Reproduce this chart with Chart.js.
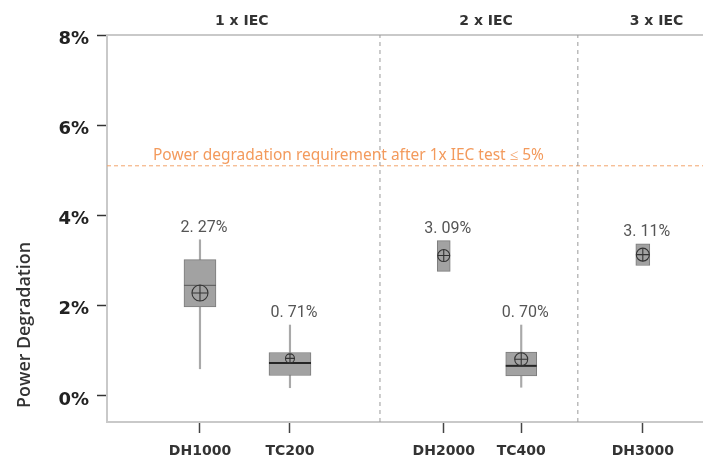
<!DOCTYPE html>
<html>
<head>
<meta charset="utf-8">
<script src="https://cdn.jsdelivr.net/npm/chart.js@4/dist/chart.umd.min.js"></script>
<style>
html,body{margin:0;padding:0;background:#fff;overflow:hidden;}
#wrap{width:703px;height:465px;overflow:hidden;}
</style>
</head>
<body>
<div id="wrap"><canvas id="c" width="703" height="465"></canvas></div>
<script>
// ---- data ----
const categories = ['DH1000', 'TC200', 'DH2000', 'TC400', 'DH3000'];
const categoryX = [15.6, 30.7, 56.5, 69.5, 89.9];          // x-axis units (0..100)
const groups = ['1 x IEC', '2 x IEC', '3 x IEC'];
const groupX = [22.6, 63.6, 92.2];
const groupDividers = [45.8, 79.0];
const whiskerLow  = [0.60, 0.18, null, 0.19, null];
const whiskerHigh = [3.46, 1.57, null, 1.57, null];
const q1     = [1.97, 0.45, 2.76, 0.44, 2.89];
const q3     = [3.02, 0.96, 3.44, 0.97, 3.37];
const median = [2.45, 0.73, null, 0.665, null];
const meanMarker = [2.28, 0.83, 3.11, 0.81, 3.13];
const meanLabels = ['2. 27%', '0. 71%', '3. 09%', '0. 70%', '3. 11%'];
const yTicks = [0, 2, 4, 6, 8];
const requirement = 5.1;
const requirementText = 'Power degradation requirement after 1x IEC test \u2264 5%';
const yTitle = 'Power Degradation';

// ---- styles ----
const boxWidths = [32, 42, 13, 31, 14];
const meanRadius = [8, 4.5, 6, 6.5, 6.5];
const Y_MIN = -0.58, Y_MAX = 8;

const datasets = [];
// whiskers
datasets.push({
  type: 'bar', label: 'whisker', grouped: false, order: 10,
  data: categories.map((c, i) => whiskerLow[i] == null ? null : {x: categoryX[i], y: [whiskerLow[i], whiskerHigh[i]]}).filter(d => d),
  backgroundColor: '#a9a9a9', borderWidth: 0, barThickness: 1.5
});
// boxes
categories.forEach((c, i) => {
  datasets.push({
    type: 'bar', label: c, grouped: false, order: 9,
    data: [{x: categoryX[i], y: [q1[i], q3[i]]}],
    backgroundColor: '#a2a2a2', borderColor: '#7b7b7b', borderWidth: 1, borderSkipped: false,
    barThickness: boxWidths[i]
  });
});
// medians
const medIdx = categories.map((c, i) => i).filter(i => median[i] != null);
datasets.push({
  type: 'scatter', label: 'median', order: 5,
  data: medIdx.map(i => ({x: categoryX[i], y: median[i]})),
  pointStyle: 'line',
  pointRadius: medIdx.map(i => boxWidths[i] / 2),
  pointBorderWidth: medIdx.map(i => i === 0 ? 1 : 2),
  pointBorderColor: medIdx.map(i => i === 0 ? '#5a5a5a' : '#262626'),
  pointBackgroundColor: 'transparent'
});
// mean circle + cross
['circle', 'cross'].forEach(ps => {
  datasets.push({
    type: 'scatter', label: 'mean-' + ps, order: 4,
    data: categories.map((c, i) => ({x: categoryX[i], y: meanMarker[i]})),
    pointStyle: ps, pointRadius: meanRadius, pointBorderWidth: 1.1,
    pointBorderColor: '#333', pointBackgroundColor: 'transparent'
  });
});
// group dividers
groupDividers.forEach(d => {
  datasets.push({
    type: 'line', label: 'div', order: 20,
    data: [{x: d, y: Y_MIN}, {x: d, y: Y_MAX}],
    borderColor: '#9a9a9a', borderWidth: 1, borderDash: [4, 4], pointRadius: 0
  });
});
// requirement line
datasets.push({
  type: 'line', label: 'req', order: 20,
  data: [{x: 0, y: requirement}, {x: 100, y: requirement}],
  borderColor: '#f3a46c', borderWidth: 1, borderDash: [4, 3], pointRadius: 0
});

const textPlugin = {
  id: 'texts',
  afterDatasetsDraw(chart) {
    const ctx = chart.ctx, xs = chart.scales.x, ys = chart.scales.y;
    ctx.save();
    ctx.font = '16px Roboto';
    ctx.fillStyle = '#555';
    ctx.textAlign = 'center';
    ctx.textBaseline = 'middle';
    categories.forEach((c, i) => {
      const top = Math.max(q3[i], whiskerHigh[i] == null ? -Infinity : whiskerHigh[i]);
      ctx.fillText(meanLabels[i], xs.getPixelForValue(categoryX[i]) + 4, ys.getPixelForValue(top) - 12);
    });
    ctx.font = '14px "Noto Sans"';
    const w = ctx.measureText(requirementText).width;
    ctx.font = (14 * 391 / w).toFixed(2) + 'px "Noto Sans"';
    ctx.fillStyle = '#f39a5c';
    ctx.textAlign = 'left';
    ctx.fillText(requirementText, chart.chartArea.left + 46, ys.getPixelForValue(requirement) - 10);
    ctx.restore();
  },
  afterDraw(chart) {
    const ctx = chart.ctx;
    ctx.save();
    ctx.translate(25, 325);
    ctx.rotate(-Math.PI / 2);
    ctx.font = '600 15px "Open Sans"';
    const w = ctx.measureText(yTitle).width;
    ctx.font = '600 ' + (15 * 166 / w).toFixed(2) + 'px "Open Sans"';
    ctx.fillStyle = '#333';
    ctx.textAlign = 'center';
    ctx.textBaseline = 'middle';
    ctx.fillText(yTitle, 0, 0);
    ctx.restore();
  }
};

const chart = new Chart(document.getElementById('c'), {
  type: 'bar',
  data: {datasets},
  plugins: [textPlugin],
  options: {
    responsive: false,
    animation: false,
    events: [],
    layout: {autoPadding: false, padding: {left: 0, top: 0, bottom: 0, right: 0}},
    plugins: {legend: {display: false}, tooltip: {enabled: false}},
    scales: {
      x: {
        type: 'linear', position: 'bottom', min: 0, max: 100, offset: false,
        afterBuildTicks: s => { s.ticks = categoryX.map(v => ({value: v})); },
        afterFit: s => { s.height = 43; s.paddingRight = 0; s.paddingLeft = 0; },
        ticks: {
          autoSkip: false, maxRotation: 0, padding: 10,
          callback: (v, i) => categories[i],
          font: {family: 'DejaVu Sans', size: 14, weight: 'bold'}, color: '#333'
        },
        grid: {offset: false, drawOnChartArea: false, drawTicks: true, tickLength: 11, tickColor: '#444', tickWidth: 1.5},
        border: {display: true, color: '#c9c9c9', width: 2}
      },
      x2: {
        type: 'linear', axis: 'x', position: 'top', min: 0, max: 100, offset: false,
        afterBuildTicks: s => { s.ticks = groupX.map(v => ({value: v})); },
        afterFit: s => { s.height = 35; s.paddingRight = 0; s.paddingLeft = 0; },
        ticks: {
          autoSkip: false, maxRotation: 0, padding: 5,
          callback: (v, i) => groups[i],
          font: {family: 'DejaVu Sans', size: 14, weight: 'bold'}, color: '#333'
        },
        grid: {offset: false, display: false, drawTicks: false},
        border: {display: true, color: '#c9c9c9', width: 2}
      },
      y: {
        type: 'linear', position: 'left', min: Y_MIN, max: Y_MAX,
        afterBuildTicks: s => { s.ticks = yTicks.map(v => ({value: v})); },
        afterFit: s => { s.width = 107; },
        ticks: {
          padding: 8, labelOffset: 4,
          callback: v => v + '%',
          font: {family: 'DejaVu Sans', size: 18, weight: 'bold'}, color: '#222'
        },
        grid: {offset: false, drawOnChartArea: false, drawTicks: true, tickLength: 10, tickColor: '#333', tickWidth: 1.5},
        border: {display: true, color: '#c9c9c9', width: 2}
      }
    }
  }
});
// the plot area runs to the right edge of the picture in the reference
const gap = 703 - chart.chartArea.right;
if (gap > 0.5) {
  chart.resize(703 + Math.ceil(gap) + 1, 465);
}
</script>
</body>
</html>
